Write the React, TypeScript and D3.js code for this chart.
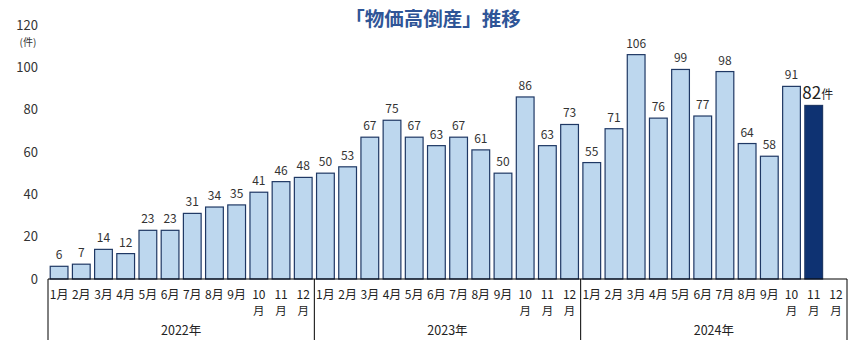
import React from "react";
import * as d3 from "d3";

const years = ["2022年", "2023年", "2024年"];
const months = ["1", "2", "3", "4", "5", "6", "7", "8", "9", "10", "11", "12"];
const values2022 = [6, 7, 14, 12, 23, 23, 31, 34, 35, 41, 46, 48];
const values2023 = [50, 53, 67, 75, 67, 63, 67, 61, 50, 86, 63, 73];
const values2024: (number | null)[] = [55, 71, 106, 76, 99, 77, 98, 64, 58, 91, 82, null];
const yTicks = [0, 20, 40, 60, 80, 100, 120];
const title = "「物価高倒産」推移";

const W = 867, H = 356;
const left = 48, right = 847, top = 25, bottom = 279;
const font = "'Noto Sans CJK JP', 'Noto Sans', sans-serif";

export default function App() {
  const all = [...values2022, ...values2023, ...values2024];
  const keys = all.map((_, i) => String(i));
  const x = d3.scaleBand<string>().domain(keys).range([left, right]).paddingInner(0.2).paddingOuter(0.1);
  const y = d3.scaleLinear().domain([0, 120]).range([bottom, top]);
  const lastIdx = 34;
  const groupW = (right - left) / years.length;

  return (
    <svg width={W} height={H} style={{ position: "absolute", left: 0, top: 0, fontFamily: font }}>
      <rect width={W} height={H} fill="#fff" />
      <text x={433} y={26} textAnchor="middle" fontSize={19.5} fontWeight="bold" fill="#2F5597">{title}</text>
      {yTicks.map((t) => (
        <text key={t} x={38} y={y(t) + 4.5} textAnchor="end" fontSize={13} fill="#333">{t}</text>
      ))}
      <text x={28} y={46} textAnchor="middle" fontSize={10} fill="#333">(件)</text>
      {all.map((v, i) => {
        if (v == null) return null;
        const bx = x(String(i))!;
        const isLast = i === lastIdx;
        return (
          <g key={i}>
            <rect x={bx} y={y(v)} width={x.bandwidth()} height={bottom - y(v)}
              fill={isLast ? "#0E3272" : "#BDD7EE"} stroke="#1F3864" strokeWidth={1.2} />
            {isLast ? (
              <text x={bx + x.bandwidth() / 2 + 4} y={y(v) - 6} textAnchor="middle" fill="#222">
                <tspan fontSize={17}>{v}</tspan><tspan fontSize={12}>件</tspan>
              </text>
            ) : (
              <text x={bx + x.bandwidth() / 2} y={y(v) - 7} textAnchor="middle" fontSize={12} fill="#333">{v}</text>
            )}
          </g>
        );
      })}
      <line x1={left} x2={right} y1={bottom} y2={bottom} stroke="#000" strokeWidth={1} />
      {[0, 1, 2, 3].map((k) => (
        <line key={k} x1={left + k * groupW} x2={left + k * groupW} y1={bottom} y2={340} stroke="#000" strokeWidth={1} />
      ))}
      {years.map((yr, yi) =>
        months.map((m, mi) => {
          const i = yi * 12 + mi;
          const cx = x(String(i))! + x.bandwidth() / 2;
          return m.length === 1 ? (
            <text key={i} x={cx} y={299} textAnchor="middle" fontSize={12} fill="#222">{m}月</text>
          ) : (
            <g key={i}>
              <text x={cx} y={299} textAnchor="middle" fontSize={12} fill="#222">{m}</text>
              <text x={cx} y={315} textAnchor="middle" fontSize={11.5} fill="#222">月</text>
            </g>
          );
        })
      )}
      {years.map((yr, yi) => (
        <text key={yr} x={left + (yi + 0.5) * groupW} y={335} textAnchor="middle" fontSize={12.5} fill="#222">{yr}</text>
      ))}
    </svg>
  );
}
